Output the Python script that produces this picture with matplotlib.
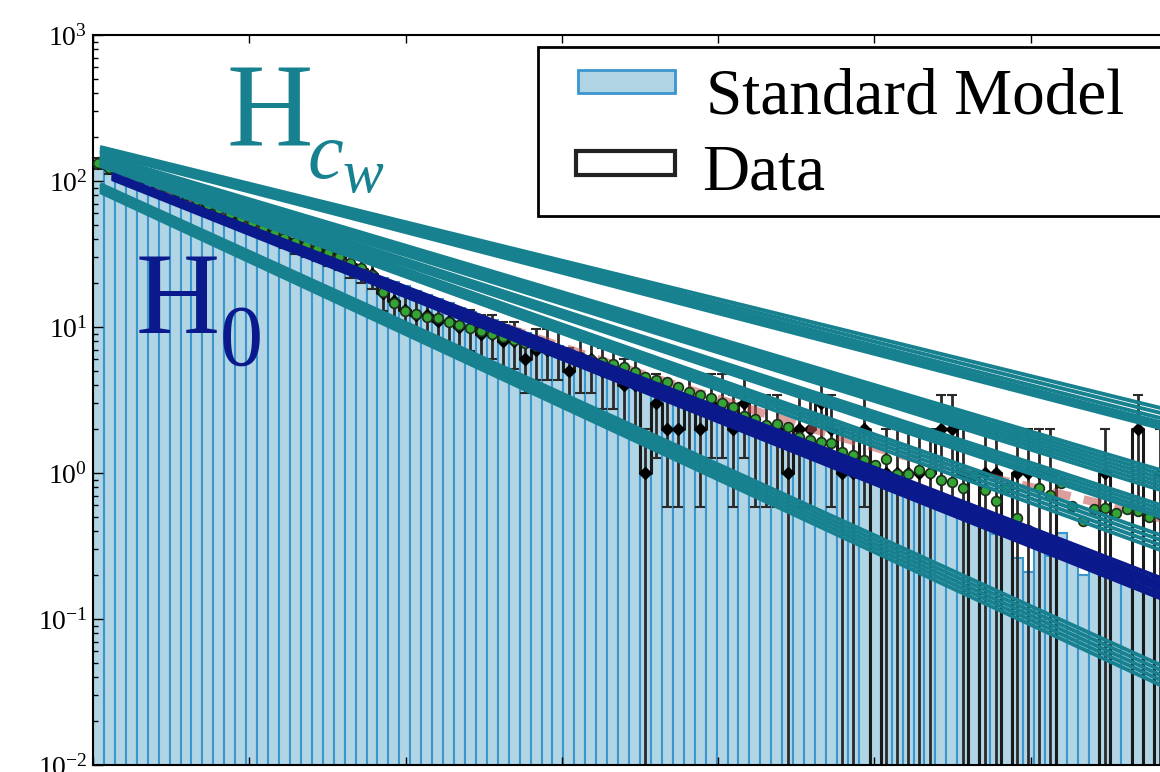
import numpy as np
import matplotlib.pyplot as plt
from matplotlib.patches import Rectangle

plt.rcParams["font.family"] = ["Liberation Serif", "DejaVu Serif"]
plt.rcParams["mathtext.fontset"] = "custom"
plt.rcParams["mathtext.rm"] = "Liberation Serif"
plt.rcParams["mathtext.it"] = "Liberation Serif:italic"
plt.rcParams["axes.unicode_minus"] = False

BIN_WIDTH = 7.0

# Standard Model expectation per bin
sm_counts = [
    124.7, 116.7, 109.1, 101.9, 95.3, 89.1, 83.4, 78.0, 72.8, 68.1,
    63.7, 59.6, 55.7, 52.0, 48.6, 45.5, 42.6, 39.8, 37.2, 34.8,
    32.5, 30.4, 28.4, 26.6, 24.8, 23.2, 21.7, 20.3, 19.0, 17.7,
    16.6, 15.5, 14.5, 13.6, 12.7, 11.9, 11.1, 10.4, 9.69, 9.06,
    8.47, 7.92, 7.41, 6.92, 6.47, 6.05, 5.66, 5.29, 4.95, 4.63,
    4.33, 4.04, 3.78, 3.53, 3.30, 3.09, 2.89, 2.70, 2.53, 2.36,
    2.21, 2.06, 1.93, 1.80, 1.69, 1.58, 1.47, 1.38, 1.29, 1.21,
    1.13, 1.05, 0.986, 0.921, 0.83, 0.82, 0.77, 0.69, 0.63, 0.62,
    0.58, 0.49, 0.38, 0.37, 0.26, 0.21, 0.39, 0.27, 0.39, 0.25,
    0.20, 0.22, 0.22, 0.21, 0.21, 0.20, 0.185, 0.18,
]

# observed events per bin
data_counts = [
    133, 123, 125, 115, 107, 100, 92, 87, 80, 74,
    69, 64, 59, 56, 52, 48, 44, 41, 38, 36,
    34, 32, 30, 27, 25, 23, 17, 15, 13, 12,
    12, 11, 11, 10, 10, 9, 9, 8, 8, 6,
    7, 7, 7, 5, 6, 6, 5, 5, 4, 4,
    1, 3, 2, 2, 3, 2, 3, 3, 2, 3,
    2, 2, 2, 1, 2, 2, 3, 2, 1, 1,
    2, 0, 1, 1, 1, 1, 1, 2, 2, 1,
    0, 1, 1, 0, 1, 1, 1, 1, 0, 0,
    0, 0, 1, 0, 0, 2, 0, 1,
]

# fitted expectation (green points)
fit_counts = [
    133, 123, 125, 115, 107, 100, 92.4, 86.8, 80.1, 74.1,
    68.5, 64.3, 59.4, 55.8, 51.5, 47.6, 44.1, 40.7, 38.2, 36.4,
    34.2, 32.1, 30.1, 27.4, 25.3, 22.7, 17.4, 14.6, 12.9, 12.3,
    11.7, 11.5, 10.8, 10.3, 9.84, 9.39, 8.96, 8.55, 8.15, 7.77,
    7.41, 7.07, 6.74, 6.43, 6.23, 5.94, 5.76, 5.58, 5.32, 4.92,
    4.55, 4.34, 4.20, 3.88, 3.59, 3.42, 3.26, 3.02, 2.83, 2.45,
    2.34, 2.13, 2.17, 2.07, 1.76, 1.68, 1.63, 1.60, 1.39, 1.33,
    1.23, 1.13, 1.25, 0.98, 0.98, 1.05, 1.00, 0.90, 0.87, 0.79,
    0.97, 0.77, 0.64, 0.79, 0.49, 0.41, 0.79, 0.71, 0.85, 0.59,
    0.47, 0.57, 0.58, 0.53, 0.57, 0.55, 0.50, 0.52,
]

# smooth background curve (red dashed)
curve_x = [2.6, 68.5, 132.5, 196.4, 260.4, 324.4, 388.4, 452.4, 516.4, 580.4, 644.4, 682.8]
curve_y = [139, 68.5, 36.5, 18.5, 10.3, 5.94, 3.53, 2.13, 1.33, 0.90, 0.62, 0.49]

# H_cw hypothesis lines: value at left start and at right edge
hcw_x = [4.5, 683.0]
hcw_start = [171, 166, 163, 160, 156, 158,
             151, 148, 146, 144, 141.5, 139,
             139, 137, 133, 131,
             135, 133, 131, 127,
             95.3, 92.4, 89.5, 86.7, 84.0]
hcw_end = [2.79, 2.58, 2.38, 2.23, 2.03, 2.13,
           1.048, 0.984, 0.924, 0.868, 0.815, 0.765,
           0.604, 0.567, 0.532, 0.500,
           0.376, 0.348, 0.321, 0.297,
           0.0484, 0.0447, 0.0413, 0.0382, 0.0353]

# H0 hypothesis lines
h0_x = [12.2, 683.0]
h0_start = [111.6, 109.9, 108.2, 106.5, 104.9, 103.2, 108.2, 104.9]
h0_end = [0.191, 0.179, 0.168, 0.158, 0.148, 0.139, 0.174, 0.163]

teal = "#17818f"
navy = "#0a1a8c"
sm_face = "#b1d5e4"
sm_edge = "#3a96cc"

fig = plt.figure(figsize=(11.6, 7.72), dpi=100)
ax = fig.add_axes([93 / 1160, 7 / 772, 1067 / 1160, 730 / 772])
ax.set_yscale("log")

edges = np.arange(len(sm_counts) + 1) * BIN_WIDTH
centers = edges[:-1] + BIN_WIDTH / 2

ax.bar(edges[:-1], sm_counts, width=BIN_WIDTH, align="edge",
       color=sm_face, edgecolor=sm_edge, linewidth=1.5, zorder=1)

data = np.array(data_counts, dtype=float)
ax.step(edges, np.r_[data, data[-1]], where="post", color="#1a1a1a",
        linewidth=2.2, zorder=2)
nz = data > 0
ax.errorbar(centers[nz], data[nz], yerr=np.sqrt(data[nz]), fmt="D",
            color="black", ecolor="#2a2a2a", markersize=6, elinewidth=2,
            capsize=3.5, capthick=1.5, zorder=2)

ax.plot(curve_x, curve_y, color="#c0504d", alpha=0.55, linewidth=6,
        dashes=(2.2, 1.6), zorder=3)

ax.plot(centers, fit_counts, "o", markersize=7, markerfacecolor="#34a534",
        markeredgecolor="#1c2e1c", markeredgewidth=1.2, zorder=4)

for y0, y1 in zip(hcw_start, hcw_end):
    ax.plot(hcw_x, [y0, y1], color=teal, linewidth=2.8,
            solid_capstyle="butt", zorder=5)

for y0, y1 in zip(h0_start, h0_end):
    ax.plot(h0_x, [y0, y1], color=navy, linewidth=3.0,
            solid_capstyle="butt", zorder=6)

ax.set_xlim(0, 1067 / 10.94 * BIN_WIDTH)
ax.set_ylim(1e-2, 1e3)
ax.set_xticks(np.arange(0, 700, 100))
ax.tick_params(axis="x", which="both", direction="in", top=True, bottom=True,
               labelbottom=False, length=6, width=1)
ax.tick_params(axis="y", which="major", direction="in", length=7, width=1,
               labelsize=20, pad=4, right=False)
ax.tick_params(axis="y", which="minor", direction="in", length=3.5, width=1,
               right=False)
ax.spines["right"].set_visible(False)
for s in ["left", "top", "bottom"]:
    ax.spines[s].set_linewidth(1.5)


def px_box(x0, y0, x1, y1):
    # pixel box (top-left origin) to figure fraction rectangle
    return (x0 / 1160, 1 - y1 / 772), (x1 - x0) / 1160, (y1 - y0) / 772


# legend drawn as a framed box
xy, w, h = px_box(538, 47, 1175, 216)
fig.add_artist(Rectangle(xy, w, h, transform=fig.transFigure, facecolor="white",
                         edgecolor="black", linewidth=2, zorder=10))
xy, w, h = px_box(578, 70, 675, 93)
fig.add_artist(Rectangle(xy, w, h, transform=fig.transFigure, facecolor=sm_face,
                         edgecolor=sm_edge, linewidth=2, zorder=11))
xy, w, h = px_box(576, 151, 675, 175)
fig.add_artist(Rectangle(xy, w, h, transform=fig.transFigure, facecolor="white",
                         edgecolor="#222222", linewidth=3, zorder=11))
fig.text(706 / 1160, 1 - 114 / 772, "Standard Model", fontsize=47,
         ha="left", va="baseline", zorder=12)
fig.text(702 / 1160, 1 - 189 / 772, "Data", fontsize=47,
         ha="left", va="baseline", zorder=12)

# hypothesis labels
fig.text(226 / 1160, 1 - 145 / 772, "H", color=teal, fontsize=86,
         ha="left", va="baseline")
fig.text(308 / 1160, 1 - 178 / 772, "c", color=teal, fontsize=58,
         style="italic", ha="left", va="baseline")
fig.text(343 / 1160, 1 - 192 / 772, "w", color=teal, fontsize=44,
         style="italic", ha="left", va="baseline")
fig.text(136 / 1160, 1 - 333 / 772, "H", color=navy, fontsize=84,
         ha="left", va="baseline")
fig.text(220 / 1160, 1 - 365 / 772, "0", color=navy, fontsize=62,
         ha="left", va="baseline")

fig.savefig("out.png", dpi=100)
